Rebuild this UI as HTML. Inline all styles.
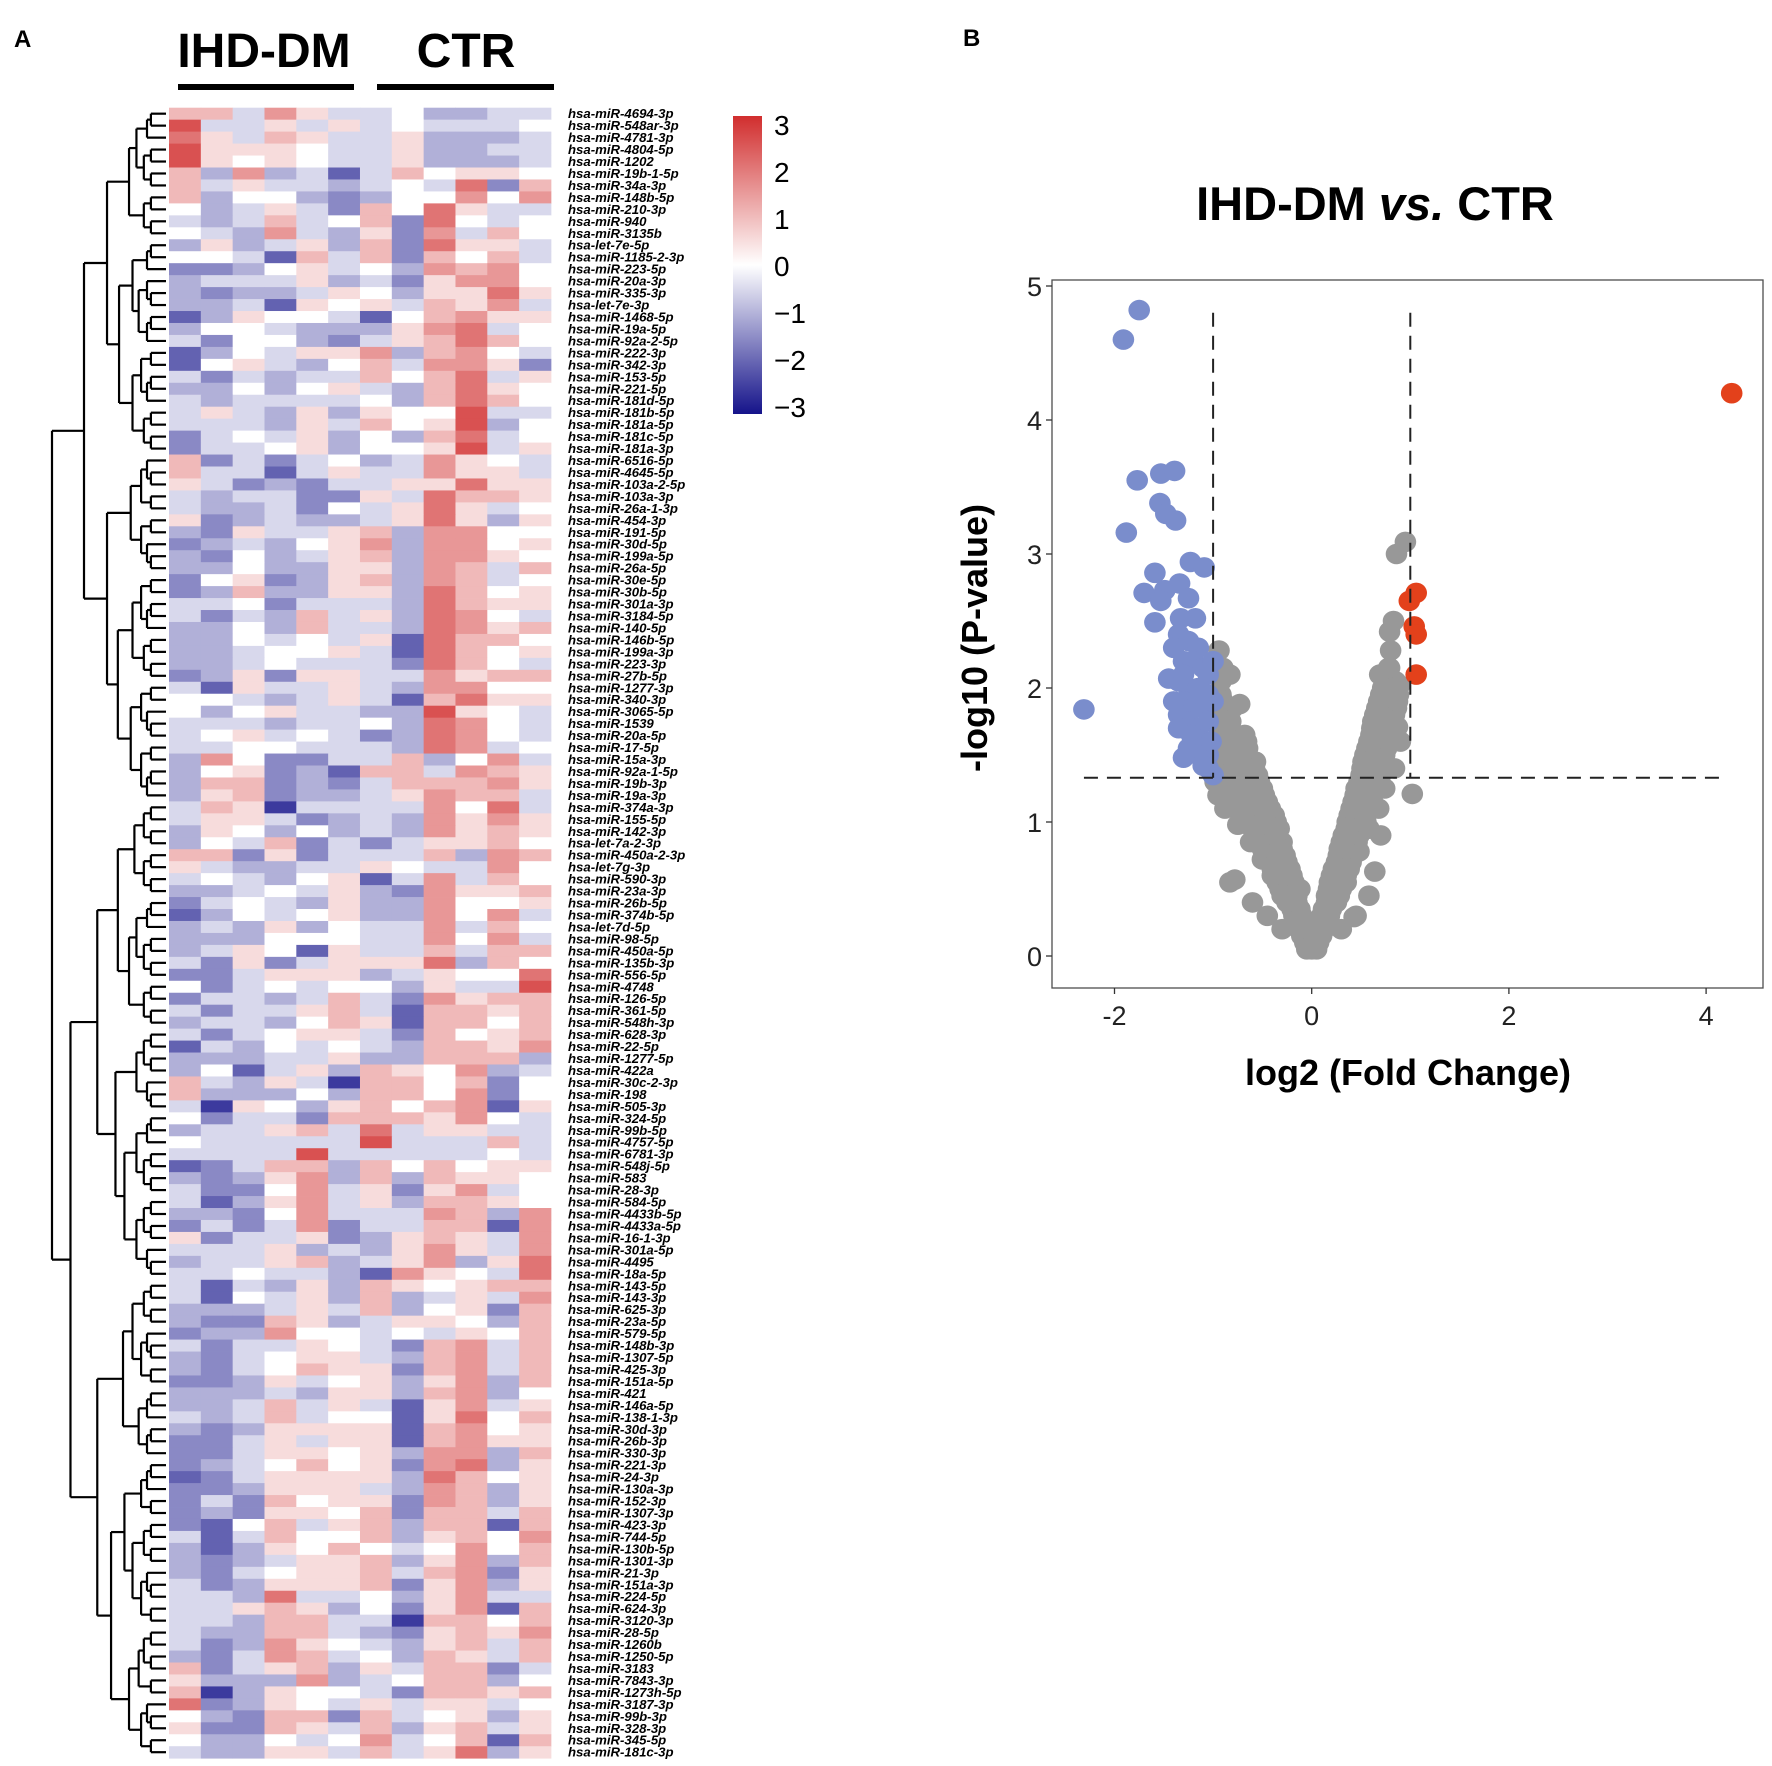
<!DOCTYPE html>
<html><head><meta charset="utf-8"><style>
html,body{margin:0;padding:0;background:#fff;}
svg{display:block;}
text{font-family:"Liberation Sans",sans-serif;}
</style></head><body>
<svg id="fig" xmlns="http://www.w3.org/2000/svg" width="1772" height="1766" viewBox="0 0 1772 1766">
<text x="14" y="47" font-size="24" font-weight="bold">A</text>
<text x="963" y="46" font-size="24" font-weight="bold">B</text>
<text x="264" y="67" font-size="48" font-weight="bold" text-anchor="middle">IHD-DM</text>
<text x="466" y="67" font-size="48" font-weight="bold" text-anchor="middle">CTR</text>
<rect x="178" y="84" width="176" height="6" fill="#000"/>
<rect x="377" y="84" width="177" height="6" fill="#000"/>
<g id="heat"></g>
<g id="dend"></g>
<g id="rowlabels"></g>
<defs><linearGradient id="lg" x1="0" y1="1" x2="0" y2="0">
<stop offset="0" stop-color="#15138a"/><stop offset="0.5" stop-color="#ffffff"/><stop offset="1" stop-color="#d12e2e"/></linearGradient></defs>
<rect x="733" y="116" width="29" height="298" fill="url(#lg)"/>
<g id="legend"></g>
<g id="volcano"></g>
</svg>
<script>
const NS="http://www.w3.org/2000/svg";
function mk(tag,attrs,parent){const e=document.createElementNS(NS,tag);for(const k in attrs)e.setAttribute(k,attrs[k]);parent.appendChild(e);return e;}

// ---------- heatmap data ----------
const rowLabels=["hsa-miR-4694-3p","hsa-miR-548ar-3p","hsa-miR-4781-3p","hsa-miR-4804-5p","hsa-miR-1202","hsa-miR-19b-1-5p","hsa-miR-34a-3p","hsa-miR-148b-5p","hsa-miR-210-3p","hsa-miR-940","hsa-miR-3135b","hsa-let-7e-5p","hsa-miR-1185-2-3p","hsa-miR-223-5p","hsa-miR-20a-3p","hsa-miR-335-3p","hsa-let-7e-3p","hsa-miR-1468-5p","hsa-miR-19a-5p","hsa-miR-92a-2-5p","hsa-miR-222-3p","hsa-miR-342-3p","hsa-miR-153-5p","hsa-miR-221-5p","hsa-miR-181d-5p","hsa-miR-181b-5p","hsa-miR-181a-5p","hsa-miR-181c-5p","hsa-miR-181a-3p","hsa-miR-6516-5p","hsa-miR-4645-5p","hsa-miR-103a-2-5p","hsa-miR-103a-3p","hsa-miR-26a-1-3p","hsa-miR-454-3p","hsa-miR-191-5p","hsa-miR-30d-5p","hsa-miR-199a-5p","hsa-miR-26a-5p","hsa-miR-30e-5p","hsa-miR-30b-5p","hsa-miR-301a-3p","hsa-miR-3184-5p","hsa-miR-140-5p","hsa-miR-146b-5p","hsa-miR-199a-3p","hsa-miR-223-3p","hsa-miR-27b-5p","hsa-miR-1277-3p","hsa-miR-340-3p","hsa-miR-3065-5p","hsa-miR-1539","hsa-miR-20a-5p","hsa-miR-17-5p","hsa-miR-15a-3p","hsa-miR-92a-1-5p","hsa-miR-19b-3p","hsa-miR-19a-3p","hsa-miR-374a-3p","hsa-miR-155-5p","hsa-miR-142-3p","hsa-let-7a-2-3p","hsa-miR-450a-2-3p","hsa-let-7g-3p","hsa-miR-590-3p","hsa-miR-23a-3p","hsa-miR-26b-5p","hsa-miR-374b-5p","hsa-let-7d-5p","hsa-miR-98-5p","hsa-miR-450a-5p","hsa-miR-135b-3p","hsa-miR-556-5p","hsa-miR-4748","hsa-miR-126-5p","hsa-miR-361-5p","hsa-miR-548h-3p","hsa-miR-628-3p","hsa-miR-22-5p","hsa-miR-1277-5p","hsa-miR-422a","hsa-miR-30c-2-3p","hsa-miR-198","hsa-miR-505-3p","hsa-miR-324-5p","hsa-miR-99b-5p","hsa-miR-4757-5p","hsa-miR-6781-3p","hsa-miR-548j-5p","hsa-miR-583","hsa-miR-28-3p","hsa-miR-584-5p","hsa-miR-4433b-5p","hsa-miR-4433a-5p","hsa-miR-16-1-3p","hsa-miR-301a-5p","hsa-miR-4495","hsa-miR-18a-5p","hsa-miR-143-5p","hsa-miR-143-3p","hsa-miR-625-3p","hsa-miR-23a-5p","hsa-miR-579-5p","hsa-miR-148b-3p","hsa-miR-1307-5p","hsa-miR-425-3p","hsa-miR-151a-5p","hsa-miR-421","hsa-miR-146a-5p","hsa-miR-138-1-3p","hsa-miR-30d-3p","hsa-miR-26b-3p","hsa-miR-330-3p","hsa-miR-221-3p","hsa-miR-24-3p","hsa-miR-130a-3p","hsa-miR-152-3p","hsa-miR-1307-3p","hsa-miR-423-3p","hsa-miR-744-5p","hsa-miR-130b-5p","hsa-miR-1301-3p","hsa-miR-21-3p","hsa-miR-151a-3p","hsa-miR-224-5p","hsa-miR-624-3p","hsa-miR-3120-3p","hsa-miR-28-5p","hsa-miR-1260b","hsa-miR-1250-5p","hsa-miR-3183","hsa-miR-7843-3p","hsa-miR-1273h-5p","hsa-miR-3187-3p","hsa-miR-99b-3p","hsa-miR-328-3p","hsa-miR-345-5p","hsa-miR-181c-3p"];
// z-scores encoded per row: A=-3 ... G=0 ... M=+3 (step 0.5), 12 samples (6 IHD-DM, 6 CTR)
const zRows=[
"IIFJHFFGEEFF","LFFHFHFGFFFG","KHFIHFFHEEEF","LHHHGFFHEEFF","LHGHGFFHEEEF","IEJEFCFIGHHG","IFHFFEFGFKDI","IEGGEDEGGJGJ",
"GEFHFDIGKHFF","FEFIFGIDKGFG","GFEJFEHDJFIG","EHEFHEIDKHHF","GGFCIFIDIGIF","DDEGHFGEJIJG","EFFFHEFDHJJG","EDEEFHGEHHKH",
"EEFCHGHFIHJF","CEHGGFCGIJHH","EGGFEEEHJKFG","FDGGEDFHIKIG","CEGFHHJEIJGF","CGHFEGIFJJHD","FDFEFFIGIKFH","EEGEGHFEIKHG",
"FEFFFFGEIKIG","FHFEHEHGGLFF","FFFEHFIGHLEG","DFGFHEGEIKFG","DFFGHEGGHLFH","IDFDFGEFJHGF",
"IFFCFHFFJHHF","HFDEDFFHHKHH","FEFFDDHFKIIH","FEEFDGFHKHFG","HDEFEEFHKHEH","EDHFFHIEJJGG","DEFEGHJEJJGH","EDGEFHIEJJHG",
"EEGEEHHEJIFI","DGHDEHIEJIFG","DEIEEHHEKIGH","FFGDFFFEKIHH","FDFEIFHEKJGF","EEGEIFFEKJHI","EEGFGFHCKIIG","EEFGGHFCKIGH",
"EEFGFFFDKIGF","DEHDHHFFJHII","FCHFFHFEJJGG","GGFEFHFCIKHH","GEGHFFEELHGF","FFFEFFGEKJGF","FGHFGFDEKJGF","FFGGFFFEKJFG",
"EJGDDFFIEGJF","EGHDECIIFJIH","EIIDEDFIIIJH","EHIDEEFHJIIF","FIHBFFFFJGKF","FHHFDEFEJHJH","EHGEGEFEJHIH",
"EGFIDFDFHHIG","IIDHDFFFIEJI","HFEEFFHGFFJG","FGFEGHCFJFIG","EEFGFHEDJHHI","DFGFEHEEJGGH","CEGFGHEEJGJF","EFEHEGFFJFIG",
"EEEGGGFFJGJF","EFHGCHFFIFII","FDHDFHHHKEIG","DDFHHHEFHGGK","GDFGFGGEHFFL","DFFEFIFDJHII","FDFFHIFCIIHI",
"EFFEGIHCIIGI","FDFGHHFDIGHI","CFEGFGFEIIHJ","EEEFFHEEIIIE","EGCFHEIHGJEF","IFEHFBIIGIDG","IEEEGEIIGJDG",
"FBHGEHIGIJCH","GDFFDIIIHJGF","EFFHIFKFHHFF","GFFFFFLFFFIF","FFFFLFFFFFGF","CDFIIEIGIGHH","EDEHJEIEIHHG",
"FDDGJFHDHJFG","FCEHJFHEIIHG","EEDGJFFFJIEJ","DFDFJDFFIICJ","HDFFHDEHIHFJ","FFFHEFEHJHFJ","EFFHIEFHJEHK",
"FFGFFECJHGFK","FCFEHEIHGHII","FCGFHEIEFHFJ","EEEFHFIEGHDI","EDDIHEFHHGEI","DEEJGGFGFHGI","FDFFHGFDIJFI",
"EDFGHHFEIJFI","EDFGIHHDIJFI","DDEHFGHEHJEI","EEEFEHHEIJEG","EEFIFHFCHJFH","FEFIFGGCHKGI","EDEHHHHCIJGH",
"DDFHFHHCIJHH","DDFHHGHEJJEI","DEFGIGHDJKEH","CDFHHHHEKIGH","DDEHHHFEJIEH","DFDIGHHDJIEH","DEDHHGIDIIFI",
"DCGIFHIEIICI","FCFIGGIEHIGJ","ECEHGIGFGJGI","EDEFHHIEHJEI","EDFGHHIFIJDH","FDEHHHIDHJEH","FFEKFFGEHJFF",
"FFHIHEGDHJCI","FFEIIFFBIIGI","FEEIIFEDHIHJ","FDEJHGFEHIFI","EDFJIFGEIHFI","IDFHIEHFIIDF","HEEEJEFGIIEG",
"IBEHGGFDIIHI","KDEHGFHFHHFG","GEDIIDIFGHEH","HDDIHFIEHIFH","GEEGFGJFGICI","FEEHHFIFHKEH"];
const zVals=zRows.map(s=>s.split('').map(c=>(c.charCodeAt(0)-71)*0.5));

const HX=169, HY=107.7, CW=31.83, RH=11.96, NCOL=12;
function zColor(v){
  v=Math.max(-3,Math.min(3,v));
  let t=Math.abs(v)/3, c=v<0?[21,19,138]:[209,46,46];
  const r=Math.round(255+(c[0]-255)*t),g=Math.round(255+(c[1]-255)*t),b=Math.round(255+(c[2]-255)*t);
  return `rgb(${r},${g},${b})`;
}
const heat=document.getElementById('heat');
zVals.forEach((row,i)=>{
  row.forEach((v,j)=>{
    const r=mk('rect',{x:(HX+j*CW).toFixed(2),y:(HY+i*RH).toFixed(2),width:(CW+0.4).toFixed(2),height:(RH+0.4).toFixed(2),fill:zColor(v)},heat);
    
    
  });
});
const rl=document.getElementById('rowlabels');
rowLabels.forEach((s,i)=>{
  const t=mk('text',{x:568,y:(HY+i*RH+RH/2+4.5).toFixed(2),'font-size':'13.2','font-weight':'bold','font-style':'italic'},rl);
  t.textContent=s;
  
  
});

// ---------- dendrogram (approximate tree structure) ----------
const splitRatios=[0.42,0.5,0.38,0.6,0.45,0.55,0.33,0.5,0.62,0.4,0.5,0.47];
const dend=document.getElementById('dend');
let sc=0;
function line(x1,y1,x2,y2){const l=mk('line',{x1,y1,x2,y2,stroke:'#000','stroke-width':2.2},dend);
  
  }
function build(a,b){
  if(a===b) return {x:166,y:HY+a*RH+RH/2};
  const n=b-a+1;
  let k=a+Math.max(0,Math.min(n-2,Math.round(n*splitRatios[(sc++)%splitRatios.length])-1));
  const L=build(a,k),R=build(k+1,b);
  const x=Math.max(52,166-9.7*Math.sqrt(n)-Math.log(n)*2);
  const xx=Math.min(x,L.x-3,R.x-3);
  line(xx,L.y,L.x,L.y);line(xx,R.y,R.x,R.y);line(xx,L.y,xx,R.y);
  return {x:xx,y:(L.y+R.y)/2};
}
build(0,rowLabels.length-1);

// ---------- colour legend ----------
const legendTicks=[3,2,1,0,-1,-2,-3];
const lg=document.getElementById('legend');
legendTicks.forEach(v=>{
  const y=266-v*47;
  const t=mk('text',{x:774,y:y+10,'font-size':'28'},lg);
  t.textContent=v<0?'\u2212'+(-v):String(v);
  
  
});

// ---------- volcano data ----------
const blueX=[-1.75,-1.91,-1.77,-1.53,-1.39,-1.54,-1.48,-1.38,-1.88,-1.23,-1.09,-1.59,-1.34,-1.70,-1.49,-1.53,-1.25,-1.59,-1.33,-1.18,-2.31,
-1.35,-1.25,-1.15,-1.40,-1.30,-1.20,-1.10,-1.05,-1.35,-1.25,-1.15,-1.45,-1.05,-1.30,-1.20,-1.10,-1.35,-1.25,-1.05,-1.15,-1.35,-1.20,-1.10,-1.05,-1.15,-1.25,-1.30,-1.05,-1.00,-1.10,-1.00,-1.00,-1.30,-1.40,-1.02,-1.22,-1.12];
const blueY=[4.82,4.60,3.55,3.60,3.62,3.38,3.30,3.25,3.16,2.94,2.90,2.86,2.78,2.71,2.73,2.65,2.67,2.49,2.52,2.52,1.84,
2.40,2.35,2.30,2.30,2.20,2.20,2.15,2.10,2.05,2.00,2.00,2.07,1.95,1.90,1.85,1.85,1.80,1.75,1.75,1.70,1.70,1.60,1.60,1.50,1.50,1.55,1.48,1.40,1.35,1.42,1.90,2.20,2.10,1.90,1.60,1.65,1.95];
const redX=[4.26,1.06,0.99,1.04,1.06,1.06];
const redY=[4.20,2.71,2.65,2.46,2.40,2.10];
const grayX=[0.95,0.86,0.83,0.79,0.80,1.02,-0.94,-0.83,-0.73,-0.57,-0.83,-0.78,0.64,0.43,0.69,0.79,0.89,0.64,0.87,
-0.05,0,0.05,-0.1,-0.05,0.05,0.1,-0.15,-0.08,0.08,0.15,-0.2,-0.12,0.12,0.2,-0.3,-0.2,-0.15,0.15,0.22,0.28,
-0.35,-0.25,-0.18,0.18,0.25,0.32,-0.4,-0.3,-0.22,0.22,0.3,0.38,-0.45,-0.35,-0.27,0.27,0.35,0.42,
-0.55,-0.45,-0.35,-0.3,0.3,0.38,0.46,-0.6,-0.5,-0.4,-0.33,0.35,0.42,0.5,-0.7,-0.6,-0.48,-0.38,0.38,0.46,0.55,
-0.8,-0.68,-0.55,-0.45,0.42,0.5,0.6,-0.85,-0.75,-0.62,-0.5,0.45,0.55,0.65,-0.9,-0.8,-0.68,-0.55,0.5,0.6,0.7,
-0.95,-0.85,-0.72,-0.6,0.52,0.63,0.73,-0.9,-0.78,-0.65,0.56,0.67,0.76,-0.92,-0.8,-0.68,0.6,0.7,0.8,
-0.92,-0.82,0.62,0.72,0.82,-0.93,-0.8,0.66,0.76,0.86,-0.92,0.7,0.8,0.88,-0.92,0.75,0.85,-0.9,0.78,
-0.98,-0.95,-0.88,-0.75,-0.62,-0.5,-0.4,-0.28,-0.18,0.25,0.35,0.48,0.58,0.68,0.74,-0.6,-0.45,-0.3,0.3,0.45,0.58,0.7,0.84,0.9,-0.66,0.55,
-0.07,0.07,-0.13,-0.03,0.03,0.13,-0.18,-0.1,0.1,0.18,-0.25,-0.15,0.15,0.24,-0.32,-0.22,-0.12,0.17,0.26,0.3,
-0.38,-0.28,-0.2,0.2,0.28,0.35,-0.42,-0.33,-0.25,0.25,0.32,0.4,-0.5,-0.4,-0.3,0.28,0.36,0.44,
-0.57,-0.47,-0.37,0.32,0.4,0.48,-0.65,-0.55,-0.44,-0.36,0.36,0.44,0.52,-0.75,-0.62,-0.5,-0.42,0.4,0.48,0.57,
-0.82,-0.7,-0.58,-0.48,0.44,0.53,0.62,-0.88,-0.76,-0.64,-0.53,0.48,0.57,0.67,-0.92,-0.82,-0.7,-0.58,0.51,0.61,0.71,
-0.93,-0.84,-0.72,0.54,0.65,0.74,-0.91,-0.79,0.58,0.68,0.78,-0.9,0.61,0.71,0.81,-0.88,0.64,0.74,0.84,-0.9,0.68,0.78,0.87,0.72,0.82];
const grayY=[3.09,3.00,2.50,2.42,2.28,1.21,2.28,2.10,1.88,1.45,0.55,0.57,0.63,0.29,2.10,2.15,2.02,1.76,1.71,
0.05,0.05,0.05,0.15,0.15,0.15,0.15,0.25,0.25,0.25,0.25,0.35,0.35,0.35,0.35,0.45,0.45,0.45,0.45,0.45,0.45,
0.55,0.55,0.55,0.55,0.55,0.55,0.65,0.65,0.65,0.65,0.65,0.65,0.75,0.75,0.75,0.75,0.75,0.75,
0.85,0.85,0.85,0.85,0.85,0.85,0.85,0.95,0.95,0.95,0.95,0.95,0.95,0.95,1.05,1.05,1.05,1.05,1.05,1.05,1.05,
1.15,1.15,1.15,1.15,1.15,1.15,1.15,1.25,1.25,1.25,1.25,1.25,1.25,1.25,1.35,1.35,1.35,1.35,1.35,1.35,1.35,
1.45,1.45,1.45,1.45,1.45,1.45,1.45,1.55,1.55,1.55,1.55,1.55,1.55,1.65,1.65,1.65,1.65,1.65,1.65,
1.75,1.75,1.75,1.75,1.75,1.85,1.85,1.85,1.85,1.85,1.95,1.95,1.95,1.95,2.05,2.05,2.05,2.15,2.15,
1.30,1.20,1.10,0.98,0.85,0.72,0.60,0.45,0.30,0.40,0.55,0.78,0.95,1.10,1.25,0.40,0.30,0.20,0.20,0.30,0.45,0.90,1.40,1.60,1.60,1.00,
0.10,0.10,0.20,0.20,0.20,0.20,0.30,0.30,0.30,0.30,0.40,0.40,0.40,0.40,0.50,0.50,0.50,0.50,0.50,0.50,
0.60,0.60,0.60,0.60,0.60,0.60,0.70,0.70,0.70,0.70,0.70,0.70,0.80,0.80,0.80,0.80,0.80,0.80,
0.90,0.90,0.90,0.90,0.90,0.90,1.00,1.00,1.00,1.00,1.00,1.00,1.00,1.10,1.10,1.10,1.10,1.10,1.10,1.10,
1.20,1.20,1.20,1.20,1.20,1.20,1.20,1.30,1.30,1.30,1.30,1.30,1.30,1.30,1.40,1.40,1.40,1.40,1.40,1.40,1.40,
1.50,1.50,1.50,1.50,1.50,1.50,1.60,1.60,1.60,1.60,1.60,1.70,1.70,1.70,1.70,1.80,1.80,1.80,1.80,1.90,1.90,1.90,1.90,2.00,2.00];
const xTicks=[-2,0,2,4];
const yTicks=[0,1,2,3,4,5];

const PL=1052,PR=1763,PT=280,PB=988;
const xs=v=>1311.7+v*98.6;
const ys=v=>956-v*134;
const vg=document.getElementById('volcano');
const frame=mk('rect',{x:PL,y:PT,width:PR-PL,height:PB-PT,fill:'none',stroke:'#4d4d4d','stroke-width':1.3},vg);


xTicks.forEach(v=>{
  const tk=mk('line',{x1:xs(v),x2:xs(v),y1:PB,y2:PB+6,stroke:'#333','stroke-width':1.3},vg);
  
  
  const t=mk('text',{x:xs(v),y:PB+37,'font-size':'27','text-anchor':'middle',fill:'#222'},vg);
  t.textContent=v<0?'-'+(-v):String(v);
  
  
});
yTicks.forEach(v=>{
  const tk=mk('line',{x1:PL-6,x2:PL,y1:ys(v),y2:ys(v),stroke:'#333','stroke-width':1.3},vg);
  
  
  const t=mk('text',{x:PL-10,y:ys(v)+10,'font-size':'27','text-anchor':'end',fill:'#222'},vg);
  t.textContent=String(v);
  
  
});
function dot(x,y,col,name){
  const c=mk('ellipse',{cx:xs(x).toFixed(1),cy:ys(y).toFixed(1),rx:10.8,ry:10.3,fill:col},vg);
  
  
}
grayX.forEach((x,i)=>dot(x,grayY[i],'#989898','point-not-significant'));
blueX.forEach((x,i)=>dot(x,blueY[i],'#7a8dcc','point-down'));
redX.forEach((x,i)=>dot(x,redY[i],'#e3411b','point-up'));
const fcCut=[-1,1], pCut=1.33, lineTop=4.8, hStart=-2.31, hEnd=4.2;
fcCut.forEach(v=>{
  const l=mk('line',{x1:xs(v),x2:xs(v),y1:ys(lineTop),y2:ys(pCut),stroke:'#222','stroke-width':2,'stroke-dasharray':'14,9'},vg);
  
  
});
const hl=mk('line',{x1:xs(hStart),x2:xs(hEnd),y1:ys(pCut),y2:ys(pCut),stroke:'#222','stroke-width':2,'stroke-dasharray':'14,9'},vg);



const title=mk('text',{x:1375,y:220,'font-size':'47','font-weight':'bold','text-anchor':'middle'},vg);
title.innerHTML='IHD-DM <tspan font-style="italic">vs.</tspan> CTR';


const xl=mk('text',{x:1408,y:1085,'font-size':'36','font-weight':'bold','text-anchor':'middle'},vg);
xl.textContent='log2 (Fold Change)';


const yl=mk('text',{x:0,y:0,'font-size':'36','font-weight':'bold','text-anchor':'middle',transform:'translate(987,638) rotate(-90)'},vg);
yl.textContent='-log10 (P-value)';


</script>
</body></html>
